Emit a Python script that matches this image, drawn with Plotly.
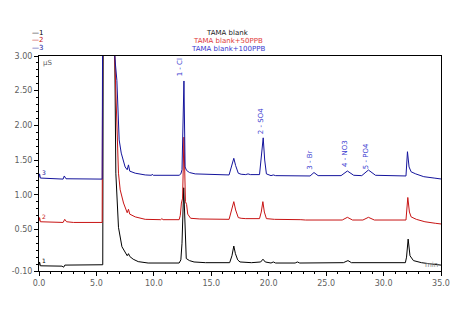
import plotly.graph_objects as go

# Retention time (min) / conductivity (µS) vertices for each chromatogram
t_blank = [0.0, 0.05, 0.12, 2.0, 2.15, 2.25, 5.55, 5.6, 6.5, 6.6, 6.69, 6.92, 7.22, 7.5, 7.68, 7.79, 7.9,
           8.2, 8.64, 9.5, 10.8, 12.2, 12.35, 12.45, 12.6, 12.72, 12.82, 13.1, 13.5, 14.5, 16.6, 16.8, 16.96,
           17.1, 17.3, 17.5, 18.5, 19.3, 19.5, 19.7, 20.2, 20.4, 20.6, 22.3, 22.5, 22.7, 26.5, 26.9, 27.2,
           31.9, 32.0, 32.14, 32.3, 32.6, 33.3, 34.2, 35.0]
v_blank = [-0.02, 0.03, -0.025, -0.03, -0.045, -0.015, -0.01, 4.0, 4.0, 3.0, 1.31, 0.53, 0.25, 0.16, 0.12, 0.15,
           0.11, 0.07, 0.035, 0.015, 0.012, 0.015, 0.06, 0.3, 1.10, 0.4, 0.08, 0.05, 0.03, 0.02, 0.02, 0.12, 0.26,
           0.15, 0.06, 0.03, 0.02, 0.03, 0.07, 0.03, 0.015, 0.03, 0.015, 0.015, 0.03, 0.015, 0.02, 0.05, 0.02,
           0.02, 0.1, 0.36, 0.12, 0.05, 0.02, 0.0, -0.015]

t_50ppb = [0.0, 0.05, 0.12, 2.1, 2.24, 2.4, 3.0, 5.5, 5.56, 6.5, 6.59, 6.75, 6.81, 6.92, 7.07, 7.36, 7.68,
           7.79, 7.9, 8.38, 9.25, 10.6, 10.7, 10.8, 12.2, 12.3, 12.4, 12.5, 12.62, 12.75, 12.85, 12.95, 13.2,
           14.0, 16.55, 16.8, 16.96, 17.12, 17.35, 17.6, 18.0, 19.2, 19.35, 19.49, 19.62, 19.8, 20.5, 22.8, 23.2,
           26.4, 26.85, 27.3, 28.2, 28.68, 29.2, 31.95, 32.05, 32.11, 32.25, 32.4, 32.85, 33.6, 34.5, 35.0]
v_50ppb = [0.62, 0.67, 0.61, 0.60, 0.645, 0.61, 0.60, 0.60, 4.0, 4.0, 3.0, 2.26, 1.79, 1.31, 1.07, 0.88, 0.74,
           0.79, 0.72, 0.68, 0.645, 0.64, 0.655, 0.64, 0.64, 0.70, 0.88, 0.95, 1.83, 0.9, 0.86, 0.72, 0.66,
           0.65, 0.645, 0.78, 0.90, 0.78, 0.67, 0.66, 0.655, 0.655, 0.75, 0.90, 0.75, 0.655, 0.645, 0.64, 0.635,
           0.635, 0.674, 0.635, 0.635, 0.674, 0.635, 0.635, 0.8, 0.96, 0.75, 0.68, 0.645, 0.61, 0.588, 0.578]

t_100ppb = [0.0, 0.05, 0.12, 2.1, 2.2, 2.35, 5.5, 5.55, 6.5, 6.59, 6.78, 6.87, 6.98, 7.16, 7.5, 7.68, 7.79,
            7.9, 8.38, 9.25, 9.8, 9.85, 9.95, 12.2, 12.35, 12.45, 12.62, 12.72, 12.85, 13.1, 13.6, 16.55, 16.8,
            16.96, 17.12, 17.35, 17.6, 18.0, 18.2, 18.4, 19.2, 19.35, 19.52, 19.65, 19.8, 20.2, 20.4, 20.6, 23.6,
            23.94, 24.3, 26.3, 26.85, 27.4, 28.1, 28.68, 29.3, 31.95, 32.05, 32.08, 32.22, 32.4, 32.8, 33.5,
            34.4, 35.0]
v_100ppb = [1.25, 1.30, 1.24, 1.225, 1.27, 1.23, 1.225, 4.0, 4.0, 3.0, 2.65, 2.26, 1.79, 1.60, 1.40, 1.36, 1.43,
            1.34, 1.31, 1.285, 1.28, 1.295, 1.28, 1.28, 1.30, 1.36, 2.64, 1.4, 1.35, 1.32, 1.30, 1.285, 1.42,
            1.525, 1.42, 1.31, 1.295, 1.29, 1.30, 1.29, 1.29, 1.5, 1.82, 1.5, 1.30, 1.275, 1.285, 1.275, 1.27,
            1.32, 1.275, 1.275, 1.342, 1.28, 1.275, 1.356, 1.28, 1.27, 1.45, 1.62, 1.40, 1.33, 1.30, 1.26,
            1.24, 1.227]

sample_names = ["TAMA blank", "TAMA blank+50PPB", "TAMA blank+100PPB"]
sample_ids = ["1", "2", "3"]
line_colors = ["#000000", "#c81414", "#14149c"]
text_colors = ["#202020", "#e03a3a", "#3a3ad0"]

# Identified peaks: label, retention time of label, label centre height
peak_labels = ["1 - Cl", "2 - SO4", "3 - Br", "4 - NO3", "5 - PO4"]
peak_label_t = [12.3, 19.33, 23.6, 26.66, 28.5]
peak_label_v = [2.84, 2.06, 1.49, 1.59, 1.56]

y_tickvals = [-0.1, 0.5, 1.0, 1.5, 2.0, 2.5, 3.0]
y_ticktext = ["-0.10", "0.50", "1.00", "1.50", "2.00", "2.50", "3.00"]
x_tickvals = [0, 5, 10, 15, 20, 25, 30, 35]
x_ticktext = ["0.0", "5.0", "10.0", "15.0", "20.0", "25.0", "30.0", "35.0"]

FONT = "DejaVu Sans"
fig = go.Figure()
series = [(t_blank, v_blank), (t_50ppb, v_50ppb), (t_100ppb, v_100ppb)]
for (tt, vv), name, col in zip(series, sample_names, line_colors):
    fig.add_trace(go.Scatter(x=tt, y=vv, mode="lines", name=name,
                             line=dict(color=col, width=1), showlegend=False))

ann = []
# run titles, stacked above the plot
for i, (name, col) in enumerate(zip(sample_names, text_colors)):
    ann.append(dict(text=name, xref="paper", yref="paper", x=0.47, y=1.107 - 0.037 * i,
                    xanchor="center", yanchor="middle", showarrow=False,
                    font=dict(family=FONT, size=7, color=col)))
# trace key in the top-left corner
for i, (sid, col) in enumerate(zip(sample_ids, line_colors)):
    ann.append(dict(text="<span style='color:%s'>\u2014</span>%s" % (col, sid),
                    xref="paper", yref="paper", x=0.014, y=1.107 - 0.034 * i,
                    xanchor="right", yanchor="middle", showarrow=False,
                    font=dict(family=FONT, size=7, color=col)))
# trace numbers at the start of each chromatogram
for (tt, vv), sid, col in zip(series, sample_ids, line_colors):
    ann.append(dict(text=sid, x=tt[0] + 0.1, y=vv[0] + 0.07, xanchor="left", yanchor="middle",
                    showarrow=False, font=dict(family=FONT, size=6, color=col)))
# peak names
for lab, pt, pv in zip(peak_labels, peak_label_t, peak_label_v):
    ann.append(dict(text=lab, x=pt, y=pv, textangle=-90, xanchor="center", yanchor="middle",
                    showarrow=False, font=dict(family=FONT, size=7, color="#3a3ad0")))
# units
ann.append(dict(text="µS", xref="paper", yref="paper", x=0.006, y=0.995, xanchor="left", yanchor="top",
                showarrow=False, font=dict(family=FONT, size=7, color="#606060")))
ann.append(dict(text="min", xref="paper", yref="paper", x=0.997, y=0.0, xanchor="right", yanchor="bottom",
                showarrow=False, font=dict(family=FONT, size=7, color="#808080")))

fig.update_layout(
    width=457, height=322, autosize=False,
    margin=dict(l=39, r=16, t=56, b=51),
    paper_bgcolor="white", plot_bgcolor="white",
    annotations=ann,
    xaxis=dict(range=[0, 35], tickvals=x_tickvals, ticktext=x_ticktext, showgrid=False, zeroline=False,
               showline=True, linecolor="black", linewidth=1, mirror=True, automargin=False,
               ticks="outside", ticklen=4, tickcolor="black", tickwidth=1,
               minor=dict(dtick=1, ticks="outside", ticklen=2, tickcolor="black"),
               tickfont=dict(family=FONT, size=8, color="#606060")),
    yaxis=dict(range=[-0.1, 3.0], tickvals=y_tickvals, ticktext=y_ticktext, showgrid=False, zeroline=False,
               showline=True, linecolor="black", linewidth=1, mirror=True, automargin=False,
               ticks="outside", ticklen=4, tickcolor="black", tickwidth=1,
               minor=dict(tickvals=[round(-0.1 + 0.1 * k, 2) for k in range(32)], ticks="outside",
                          ticklen=2, tickcolor="black"),
               tickfont=dict(family=FONT, size=8, color="#606060")),
)

fig.write_html("out.html")
